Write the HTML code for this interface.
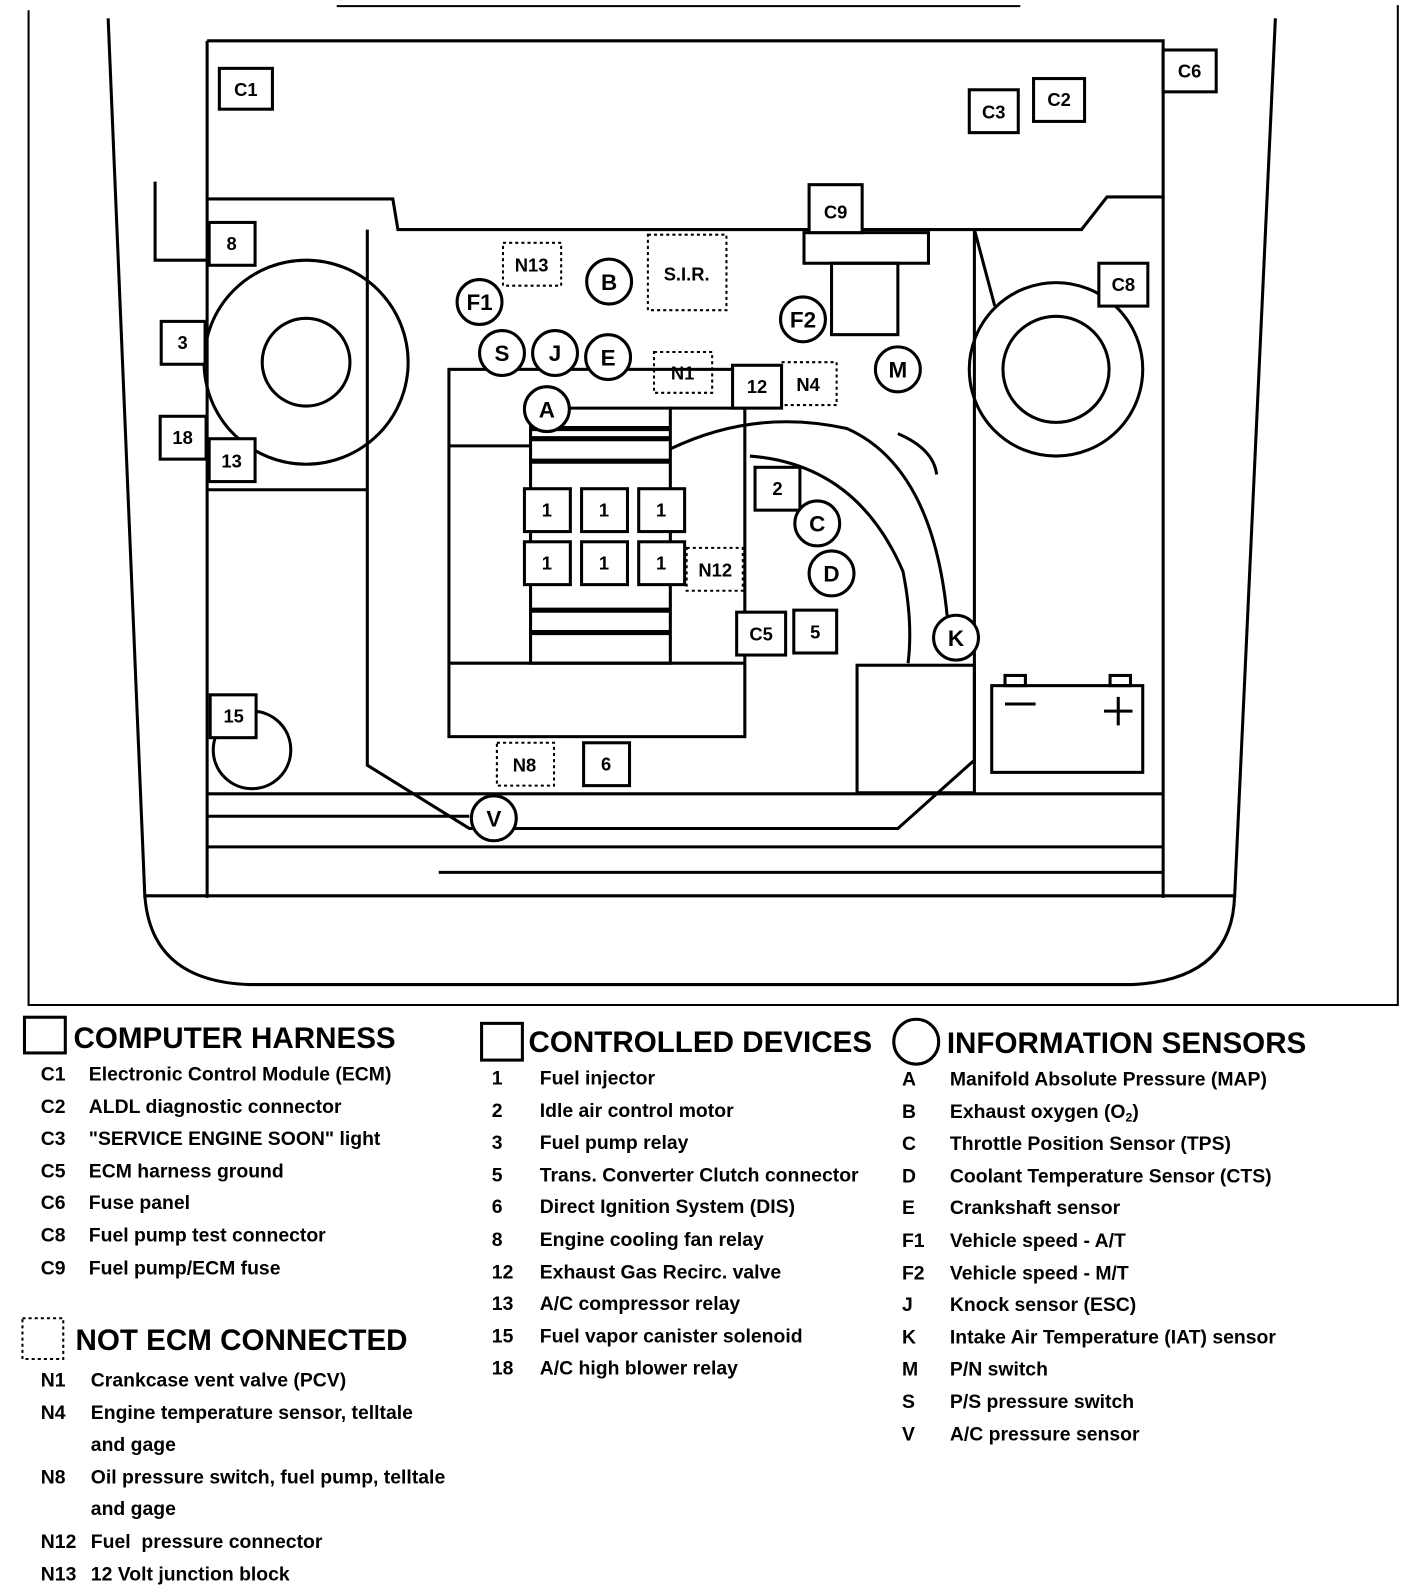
<!DOCTYPE html>
<html><head><meta charset="utf-8"><style>
html,body{margin:0;padding:0;background:#fff;}
body{width:1408px;height:1594px;overflow:hidden;position:relative;font-family:"Liberation Sans",sans-serif;}
#w{position:absolute;left:0;top:0;width:1380px;height:1563px;transform:scale(1.0203);transform-origin:0 0;}
svg{position:absolute;left:0;top:0;}
text{font-family:"Liberation Sans",sans-serif;font-weight:bold;fill:#000;}
.lg{position:absolute;font-size:19px;font-weight:bold;line-height:31.6px;white-space:pre;}
.h{position:absolute;font-size:29px;font-weight:bold;}
.sb{font-size:12px;vertical-align:-3px;line-height:0;}
</style></head><body><div id="w">
<svg width="1380" height="1563" viewBox="0 0 1380 1563" fill="none" stroke="#000" stroke-width="3">
<path d="M28,10 V985 H1370 V5" stroke-width="2"/>
<path d="M330,6 H1000" stroke-width="2"/>
<path d="M106,18 L142,880"/><path d="M1250,18 L1210,880"/>
<path d="M142,878 H1210 Q1208,960 1110,965 H245 Q148,962 142,878"/>
<path d="M203,40 H1140 V193 H1085 L1060,225 H390 L385,195 H203 V40"/>
<path d="M152,178 V255 H205"/>
<path d="M203,195 V880" />
<path d="M203,480 H360"/>
<path d="M203,778 H1140"/><path d="M203,800 H460"/><path d="M203,830 H1140"/><path d="M430,855 H1140"/>
<path d="M1140,193 V880"/>
<path d="M360,225 V750 L460,812 H880 L955,745 V225"/>
<path d="M955,225 L975,300"/>
<circle cx="300" cy="355" r="100"/><circle cx="300" cy="355" r="43"/>
<circle cx="1035" cy="362" r="85"/><circle cx="1035" cy="362" r="52"/>
<circle cx="247" cy="735" r="38"/>
<rect x="440" y="362" width="290" height="360"/>
<path d="M440,437 H520 M440,650 H730 M657,400 H730"/>
<path d="M520,400 H657 V650 H520 Z"/>
<path d="M520,430 H657 M520,452 H657 M520,598 H657 M520,620 H657 M520,420 H657" stroke-width="5"/>
<path d="M657,440 Q740,400 830,420 Q920,460 930,625" />
<path d="M735,447 Q840,455 885,560 Q895,610 890,650"/>
<path d="M880,425 Q915,440 918,465"/>
<rect x="840" y="652" width="115" height="125"/>
<rect x="972" y="672" width="148" height="85"/>
<rect x="985" y="662" width="20" height="10"/><rect x="1088" y="662" width="20" height="10"/>
<path d="M985,690 H1015 M1082,697 H1110 M1096,683 V711"/>
<rect x="788" y="228" width="122" height="30"/><rect x="815" y="258" width="65" height="70"/>
<g stroke-width="3" fill="#fff">
<rect x="215" y="67" width="52" height="40"/><rect x="950" y="88" width="48" height="42"/>
<rect x="1013" y="77" width="50" height="42"/><rect x="1140" y="49" width="52" height="41"/>
<rect x="793" y="181" width="52" height="47"/><rect x="1077" y="258" width="48" height="42"/>
<rect x="205" y="218" width="45" height="42"/><rect x="158" y="315" width="43" height="42"/>
<rect x="157" y="408" width="45" height="42"/><rect x="205" y="430" width="45" height="42"/>
<rect x="718" y="358" width="48" height="42"/><rect x="740" y="458" width="44" height="42"/>
<rect x="722" y="600" width="48" height="42"/><rect x="778" y="598" width="42" height="42"/>
<rect x="206" y="681" width="45" height="42"/><rect x="572" y="728" width="45" height="42"/>
<rect x="514" y="479" width="45" height="42"/><rect x="570" y="479" width="45" height="42"/><rect x="626" y="479" width="45" height="42"/>
<rect x="514" y="531" width="45" height="42"/><rect x="570" y="531" width="45" height="42"/><rect x="626" y="531" width="45" height="42"/>
</g>
<g stroke-width="2" stroke-dasharray="3,3">
<rect x="493" y="238" width="57" height="42"/><rect x="635" y="230" width="77" height="74"/>
<rect x="641" y="345" width="57" height="40"/><rect x="766" y="355" width="54" height="42"/>
<rect x="673" y="537" width="55" height="42"/><rect x="487" y="728" width="56" height="42"/>
</g>
<g fill="#fff">
<circle cx="597" cy="276" r="22"/><circle cx="470" cy="296" r="22"/><circle cx="787" cy="313" r="22"/>
<circle cx="492" cy="346" r="22"/><circle cx="544" cy="346" r="22"/><circle cx="596" cy="350" r="22"/>
<circle cx="880" cy="362" r="22"/><circle cx="536" cy="401" r="22"/><circle cx="801" cy="513" r="22"/>
<circle cx="815" cy="562" r="22"/><circle cx="937" cy="625" r="22"/><circle cx="484" cy="802" r="22"/>
</g>
<g stroke="none" fill="#000" font-size="18" text-anchor="middle">
<text x="241" y="94">C1</text><text x="974" y="116">C3</text><text x="1038" y="104">C2</text><text x="1166" y="76">C6</text>
<text x="819" y="214">C9</text><text x="1101" y="285">C8</text><text x="227" y="245">8</text><text x="179" y="342">3</text>
<text x="179" y="435">18</text><text x="227" y="458">13</text><text x="742" y="385">12</text><text x="762" y="485">2</text>
<text x="746" y="628">C5</text><text x="799" y="626">5</text><text x="229" y="708">15</text><text x="594" y="755">6</text>
<text x="536" y="506">1</text><text x="592" y="506">1</text><text x="648" y="506">1</text>
<text x="536" y="558">1</text><text x="592" y="558">1</text><text x="648" y="558">1</text>
<text x="521" y="266" font-weight="normal">N13</text><text x="673" y="275" font-weight="normal">S.I.R.</text>
<text x="669" y="372" font-weight="normal">N1</text><text x="792" y="383" font-weight="normal">N4</text>
<text x="701" y="565" font-weight="normal">N12</text><text x="514" y="756" font-weight="normal">N8</text>
<g font-size="22"><text x="597" y="284">B</text><text x="470" y="304">F1</text><text x="787" y="321">F2</text>
<text x="492" y="354">S</text><text x="544" y="354">J</text><text x="596" y="358">E</text><text x="880" y="370">M</text>
<text x="536" y="409">A</text><text x="801" y="521">C</text><text x="815" y="570">D</text><text x="937" y="633">K</text><text x="484" y="810">V</text></g>
</g>
<rect x="24" y="997" width="40" height="35" stroke-width="3"/>
<rect x="472" y="1003" width="40" height="36" stroke-width="3"/>
<circle cx="898" cy="1021" r="22" stroke-width="3"/>
<rect x="22" y="1292" width="40" height="40" stroke-width="2" stroke-dasharray="3,3"/>
</svg>
<div class="h" style="left:72px;top:1002px">COMPUTER HARNESS</div>
<div class="h" style="left:518px;top:1006px">CONTROLLED DEVICES</div>
<div class="h" style="left:928px;top:1007px">INFORMATION SENSORS</div>
<div class="h" style="left:74px;top:1298px">NOT ECM CONNECTED</div>
<div class="lg" style="left:40px;top:1038px">C1
C2
C3
C5
C6
C8
C9</div>
<div class="lg" style="left:87px;top:1038px">Electronic Control Module (ECM)
ALDL diagnostic connector
"SERVICE ENGINE SOON" light
ECM harness ground
Fuse panel
Fuel pump test connector
Fuel pump/ECM fuse</div>
<div class="lg" style="left:40px;top:1338px">N1
N4

N8

N12
N13</div>
<div class="lg" style="left:89px;top:1338px">Crankcase vent valve (PCV)
Engine temperature sensor, telltale
and gage
Oil pressure switch, fuel pump, telltale
and gage
Fuel  pressure connector
12 Volt junction block</div>
<div class="lg" style="left:482px;top:1042px">1
2
3
5
6
8
12
13
15
18</div>
<div class="lg" style="left:529px;top:1042px">Fuel injector
Idle air control motor
Fuel pump relay
Trans. Converter Clutch connector
Direct Ignition System (DIS)
Engine cooling fan relay
Exhaust Gas Recirc. valve
A/C compressor relay
Fuel vapor canister solenoid
A/C high blower relay</div>
<div class="lg" style="left:884px;top:1043px">A
B
C
D
E
F1
F2
J
K
M
S
V</div>
<div class="lg" style="left:931px;top:1043px">Manifold Absolute Pressure (MAP)
Exhaust oxygen (O<span class="sb">2</span>)
Throttle Position Sensor (TPS)
Coolant Temperature Sensor (CTS)
Crankshaft sensor
Vehicle speed - A/T
Vehicle speed - M/T
Knock sensor (ESC)
Intake Air Temperature (IAT) sensor
P/N switch
P/S pressure switch
A/C pressure sensor</div>
</div></body></html>
